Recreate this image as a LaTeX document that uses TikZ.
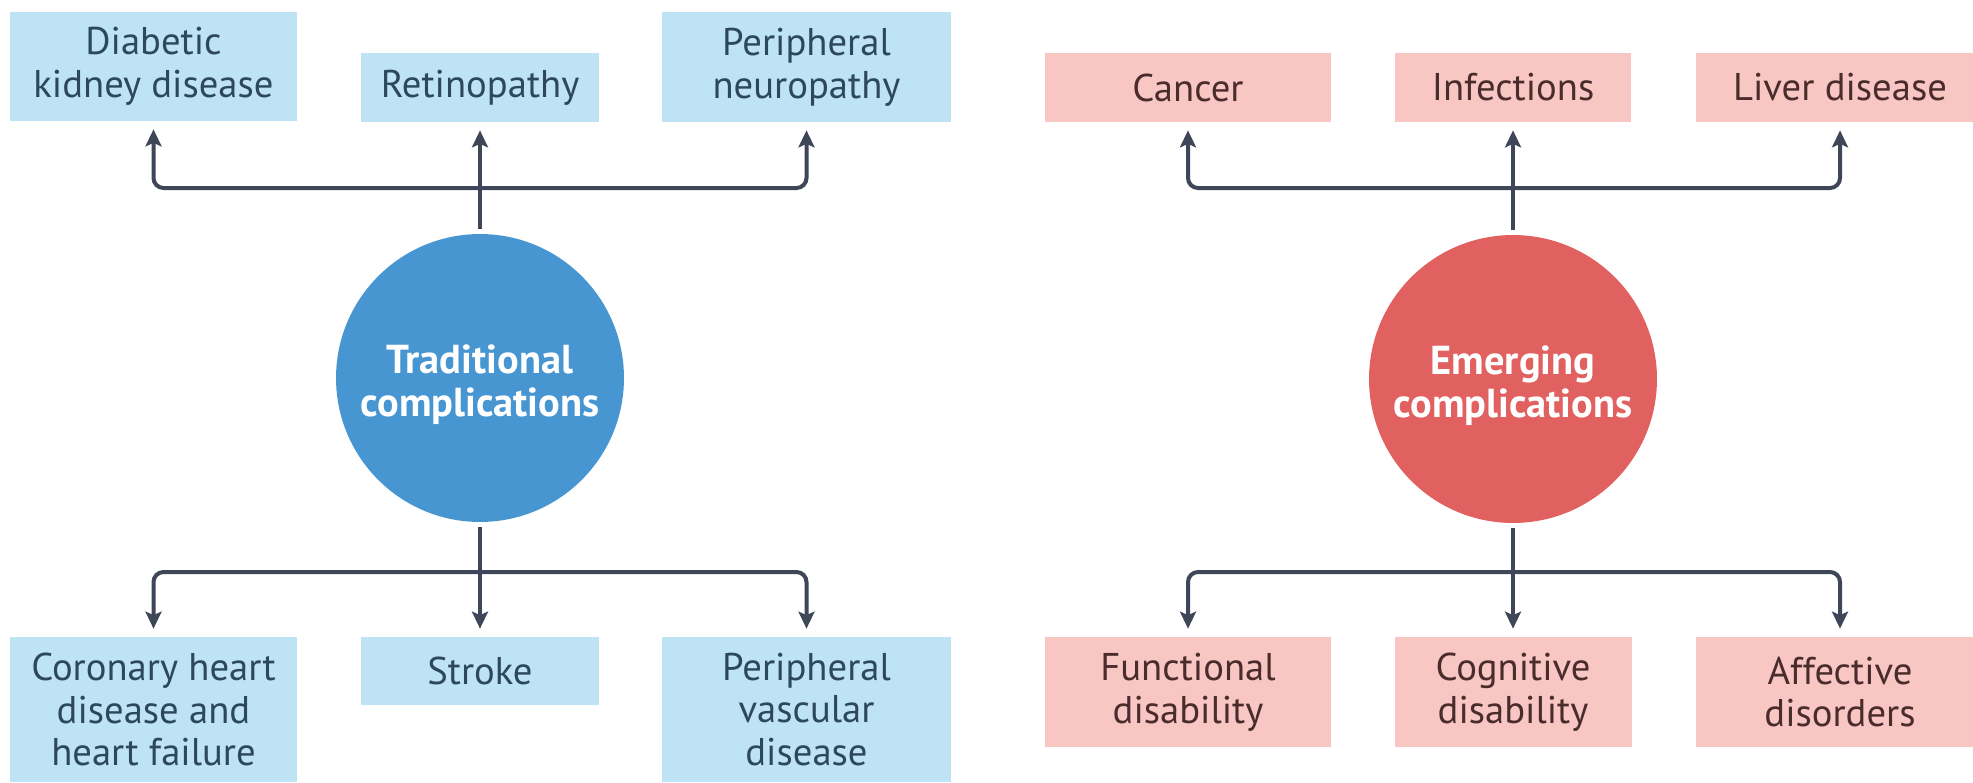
\documentclass[tikz,border=0pt]{standalone}
\usepackage{fontspec}
\setmainfont{PT Sans}
\usetikzlibrary{arrows.meta}
\definecolor{lblue}{HTML}{BDE3F5}
\definecolor{dblue}{HTML}{4796D2}
\definecolor{lpink}{HTML}{F8C6C3}
\definecolor{dred}{HTML}{E0615F}
\definecolor{linec}{HTML}{3E4658}
\definecolor{btext}{HTML}{2D4858}
\definecolor{rtext}{HTML}{4A2C2C}
\begin{document}
\begin{tikzpicture}[x=0.02cm,y=-0.02cm,
  boxtxt/.style={inner sep=0pt, align=center, font=\fontsize{22}{24.3}\selectfont},
  bluebox/.style={boxtxt, fill=lblue, text=btext},
  pinkbox/.style={boxtxt, fill=lpink, text=rtext},
  hub/.style={circle, minimum size=5.76cm, inner sep=0pt},
  hubtext/.style={inner sep=0pt, text=white, align=center,
    font=\fontsize{23}{24.5}\selectfont\bfseries},
  conn/.style={draw=linec, line width=0.08cm, rounded corners=0.2cm,
    -{Stealth[length=0.34cm,width=0.32cm,inset=0.07cm]}, shorten >=0.16cm},
  stem/.style={conn, shorten <=0.1cm}
]
\useasboundingbox (0,0) rectangle (1973,782);
\fill[white] (0,0) rectangle (1973,782);

% hubs
\node[hub, fill=dblue] (trad) at (480,378) {};
\node[hubtext] (tradtxt) at ([yshift=-0.13cm]trad.center) {Traditional\\complications};
\node[hub, fill=dred] (emer) at (1513,379) {};
\node[hubtext] (emertxt) at ([yshift=-0.13cm]emer.center) {Emerging\\complications};

% traditional, top
\node[bluebox, minimum width=5.74cm, minimum height=2.18cm] (dkd) at (153.5,66.5) {Diabetic\\kidney disease};
\node[bluebox, minimum width=4.76cm, minimum height=1.38cm] (ret) at (480,87.5) {Retinopathy};
\node[bluebox, minimum width=5.78cm, minimum height=2.2cm] (pn) at (806.5,67) {Peripheral\\neuropathy};
% traditional, bottom
\node[bluebox, minimum width=5.74cm, minimum height=2.9cm] (chd) at (153.5,709.5) {Coronary heart\\disease and\\heart failure};
\node[bluebox, minimum width=4.76cm, minimum height=1.36cm] (stroke) at (480,671) {Stroke};
\node[bluebox, minimum width=5.78cm, minimum height=2.9cm] (pvd) at (806.5,709.5) {Peripheral\\vascular\\disease};

% emerging, top
\node[pinkbox, minimum width=5.72cm, minimum height=1.38cm] (cancer) at (1188,87.5) {Cancer};
\node[pinkbox, minimum width=4.72cm, minimum height=1.38cm] (inf) at (1513,87.5) {Infections};
\node[pinkbox, minimum width=5.76cm, minimum height=1.38cm] (liver) at (1840,87.5) {Liver disease};
% emerging, bottom
\node[pinkbox, minimum width=5.72cm, minimum height=2.2cm] (func) at (1188,692) {Functional\\disability};
\node[pinkbox, minimum width=4.74cm, minimum height=2.2cm] (cog) at (1513,692) {Cognitive\\disability};
\node[pinkbox, minimum width=5.76cm, minimum height=2.2cm] (aff) at (1840,692) {Affective\\disorders};

% branch points
\coordinate (tl) at (480,188);
\coordinate (bl) at (480,572);
\coordinate (tr) at (1513,188);
\coordinate (br) at (1513,572);

% traditional connectors
\draw[stem] (trad.north) -- (ret.south);
\draw[conn] (tl) -| (dkd.south);
\draw[conn] (tl) -| (pn.south);
\draw[stem] (trad.south) -- (stroke.north);
\draw[conn] (bl) -| (chd.north);
\draw[conn] (bl) -| (pvd.north);

% emerging connectors
\draw[stem] (emer.north) -- (inf.south);
\draw[conn] (tr) -| (cancer.south);
\draw[conn] (tr) -| (liver.south);
\draw[stem] (emer.south) -- (cog.north);
\draw[conn] (br) -| (func.north);
\draw[conn] (br) -| (aff.north);
\end{tikzpicture}
\end{document}
